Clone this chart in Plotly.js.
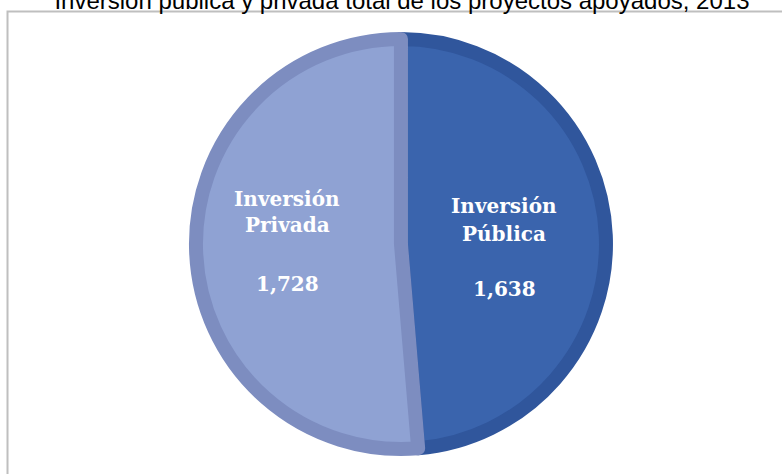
<!DOCTYPE html>
<html>
<head>
<meta charset="utf-8">
<script src="https://cdn.plot.ly/plotly-3.0.1.min.js"></script>
<style>html,body{margin:0;padding:0;background:#fff;}#chart{width:782px;height:474px;}</style>
</head>
<body>
<div id="chart"></div>
<script>
const titleText = "Inversión pública y privada total de los proyectos apoyados, 2013";
const categories = ["Inversión Pública", "Inversión Privada"];
const values = [1638, 1728];
const fillColors = ["#3A64AD", "#8FA2D3"];
const borderColors = ["#30569C", "#7D8DC0"];

// label placement (layout positions, paper coords) per category: [x, y-line1, y-line2, y-value]
const labelPos = [
  { x: 504 / 782, ys: [206, 234, 289] },
  { x: 287 / 782, ys: [199, 225, 284] }
];

const trace = {
  type: "pie",
  labels: categories,
  values: values,
  sort: false,
  direction: "clockwise",
  rotation: 0,
  marker: { colors: fillColors, line: { color: borderColors, width: 14 } },
  textinfo: "none",
  hoverinfo: "none",
  showlegend: false,
  domain: { x: [0.2506, 0.7749], y: [0.0527, 0.9177] }
};

const fmt = v => v.toLocaleString("en-US");
const labelFont = { family: "DejaVu Serif", size: 20, color: "#FFFFFF", weight: "bold" };
const annotations = [];
categories.forEach((cat, i) => {
  const words = cat.split(" ");
  const lines = [words[0], words.slice(1).join(" "), fmt(values[i])];
  lines.forEach((t, k) => {
    annotations.push({
      text: t, showarrow: false, xref: "paper", yref: "paper",
      x: labelPos[i].x, y: (474 - labelPos[i].ys[k]) / 474,
      xanchor: "center", yanchor: "middle", font: labelFont
    });
  });
});

const layout = {
  width: 782, height: 474,
  margin: { l: 0, r: 0, t: 0, b: 0 },
  paper_bgcolor: "#FFFFFF",
  showlegend: false,
  title: {
    text: titleText,
    font: { family: "Liberation Sans, Arial", size: 24, color: "#000000" },
    x: 0.514, xanchor: "center",
    y: 0.999, yanchor: "middle", yref: "container"
  },
  annotations: annotations,
  shapes: [{
    type: "rect", xref: "paper", yref: "paper",
    x0: 0.0096, x1: 1.02, y0: -0.02, y1: 0.976,
    line: { color: "#BFBFBF", width: 2 }, fillcolor: "rgba(0,0,0,0)", layer: "below"
  }]
};

Plotly.newPlot("chart", [trace], layout, { displayModeBar: false, staticPlot: true });
</script>
</body>
</html>
